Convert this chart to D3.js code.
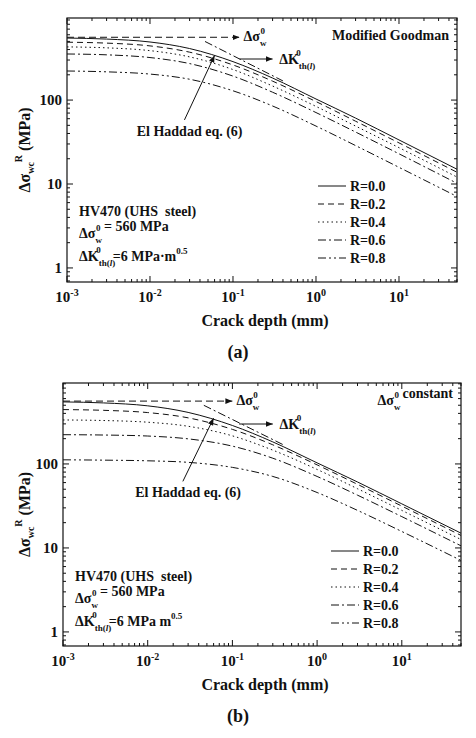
<!DOCTYPE html>
<html><head><meta charset="utf-8">
<script src="https://cdn.jsdelivr.net/npm/d3@7"></script>
<style>body{margin:0;background:#fff}svg text{font-family:"Liberation Serif","DejaVu Serif",serif;font-weight:bold;fill:#111}</style>
</head><body><svg id="chart" width="476" height="738"></svg>
<script>
// crack depth sample points (mm)
const depth = [0.001, 0.003, 0.01, 0.03, 0.1, 0.3, 1, 3, 10, 50];
const rLabels = ["R=0.0", "R=0.2", "R=0.4", "R=0.6", "R=0.8"];
// panel (a) Modified Goodman, MPa
const goodman = [
  [548, 533, 492, 411, 287, 183, 103, 61, 33.5, 15.0],
  [489, 477, 442, 372, 262, 168, 96, 56, 30.9, 13.8],
  [430, 419, 388, 327, 231, 147, 84, 49, 27.1, 12.1],
  [354, 346, 321, 272, 193, 124, 71, 41.6, 22.9, 10.2],
  [222, 217, 204, 177, 129, 85, 49, 28.7, 15.8, 7.1]
];
// panel (b) constant delta sigma, MPa
const constant = [
  [548, 533, 492, 411, 287, 183, 103, 61, 33.5, 15.0],
  [444, 435, 409, 354, 258, 169, 97.5, 57.2, 31.5, 14.1],
  [334, 329, 314, 281, 216, 146, 86, 50.7, 28.0, 12.6],
  [223, 221, 215, 199, 163, 117, 71, 42.5, 23.6, 10.6],
  [112, 111, 109, 104.5, 91, 71, 45.7, 28, 15.7, 7.1]
];
const sigmaW = 560;
const kthLine = [[0.046, 499], [0.4, 169]];
const dashes = [null, "6,4", "1.5,3", "8,3,2,3", "8,3,2,3,2,3"];

const svg = d3.select("#chart");
svg.append("defs").append("marker").attr("id", "ah").attr("viewBox", "0 0 10 10")
  .attr("refX", 10).attr("refY", 5).attr("markerWidth", 7).attr("markerHeight", 7)
  .attr("orient", "auto-start-reverse").attr("markerUnits", "userSpaceOnUse")
  .append("path").attr("d", "M0,1L10,5L0,9Z").attr("fill", "#111");

// Δσ_w^0 / ΔK_th(l)^0 symbol pieces
function sigW(t) {
  t.append("tspan").text("Δσ");
  t.append("tspan").attr("font-size", 9).attr("dy", 5).text("w");
  t.append("tspan").attr("font-size", 9).attr("dx", -6).attr("dy", -12).text("0");
  t.append("tspan").attr("font-size", 14).attr("dy", 7).text("");
}
function kth(t) {
  t.append("tspan").text("ΔK");
  t.append("tspan").attr("font-size", 9).attr("dy", 5).text("th(");
  t.append("tspan").attr("font-size", 9).attr("font-style", "italic").text("l");
  t.append("tspan").attr("font-size", 9).text(")");
  t.append("tspan").attr("font-size", 9).attr("dx", -19).attr("dy", -13).text("0");
}

function drawPanel(o) {
  const x = d3.scaleLog().domain([1e-3, 50]).range([o.left, o.right]);
  const y = d3.scaleLog().domain([0.68, o.ytop]).range([o.bottom, o.top]);
  const g = svg.append("g");
  g.append("rect").attr("x", o.left).attr("y", o.top).attr("width", o.right - o.left)
    .attr("height", o.bottom - o.top).attr("fill", "none").attr("stroke", "#111").attr("stroke-width", 1.2);

  // ticks (inside, mirrored)
  const xt = [], yt = [];
  for (let e = -3; e <= 1; e++) for (let m = 1; m <= 9; m++) { const v = m * 10 ** e; if (v <= 50) xt.push([v, m === 1]); }
  for (let e = -1; e <= 2; e++) for (let m = 1; m <= 9; m++) { const v = m * 10 ** e; if (v >= 0.68 && v <= o.ytop) yt.push([v, m === 1]); }
  xt.forEach(([v, maj]) => {
    const l = maj ? 6 : 3;
    g.append("line").attr("x1", x(v)).attr("x2", x(v)).attr("y1", o.bottom).attr("y2", o.bottom - l).attr("stroke", "#111");
    g.append("line").attr("x1", x(v)).attr("x2", x(v)).attr("y1", o.top).attr("y2", o.top + l).attr("stroke", "#111");
  });
  yt.forEach(([v, maj]) => {
    const l = maj ? 6 : 3;
    g.append("line").attr("y1", y(v)).attr("y2", y(v)).attr("x1", o.left).attr("x2", o.left + l).attr("stroke", "#111");
    g.append("line").attr("y1", y(v)).attr("y2", y(v)).attr("x1", o.right).attr("x2", o.right - l).attr("stroke", "#111");
  });
  [-3, -2, -1, 0, 1].forEach(e => {
    const t = g.append("text").attr("x", x(10 ** e)).attr("y", o.bottom + 20).attr("text-anchor", "middle")
      .attr("font-size", 15).attr("font-weight", "normal");
    t.append("tspan").text("10");
    t.append("tspan").attr("dy", -6).attr("font-size", 10).text(e);
  });
  [1, 10, 100].forEach(v => g.append("text").attr("x", o.left - 5).attr("y", y(v) + 5)
    .attr("text-anchor", "end").attr("font-size", 15).text(v));
  g.append("text").attr("x", (o.left + o.right) / 2 + 3).attr("y", o.bottom + 44).attr("text-anchor", "middle")
    .attr("font-size", 16).text("Crack depth (mm)");
  const yl = g.append("text").attr("transform", `translate(30,${(o.top + o.bottom) / 2}) rotate(-90)`)
    .attr("text-anchor", "middle").attr("font-size", 16);
  yl.append("tspan").text("Δσ");
  yl.append("tspan").attr("font-size", 10).attr("dy", 4).text("wc");
  yl.append("tspan").attr("font-size", 10).attr("dy", -12).text("R");
  yl.append("tspan").attr("dy", 8).text(" (MPa)");
  g.append("text").attr("x", 238).attr("y", o.bottom + 76).attr("text-anchor", "middle")
    .attr("font-size", 18).attr("font-weight", "normal").text(o.tag);

  const line = d3.line().x((d, i) => x(depth[i])).y(d => y(d)).curve(d3.curveMonotoneX);
  o.data.forEach((s, k) => g.append("path").attr("d", line(s)).attr("fill", "none")
    .attr("stroke", "#111").attr("stroke-width", 1).attr("stroke-dasharray", dashes[k]));

  // sigma_w dashed reference with arrow
  g.append("line").attr("x1", x(1e-3)).attr("x2", x(o.arrowEnd)).attr("y1", y(sigmaW)).attr("y2", y(sigmaW))
    .attr("stroke", "#111").attr("stroke-dasharray", "7,4").attr("marker-end", "url(#ah)");
  sigW(g.append("text").attr("x", x(o.arrowEnd) + 4).attr("y", y(sigmaW) + 4).attr("font-size", 14));

  // threshold slope line
  g.append("line").attr("x1", x(kthLine[0][0])).attr("y1", y(kthLine[0][1])).attr("x2", x(kthLine[1][0])).attr("y2", y(kthLine[1][1]))
    .attr("stroke", "#111").attr("stroke-dasharray", "8,3,2,3");
  const ky = o.top + 41;
  g.append("line").attr("x1", x(0.12)).attr("x2", x(0.3)).attr("y1", ky).attr("y2", ky)
    .attr("stroke", "#111").attr("marker-end", "url(#ah)");
  kth(g.append("text").attr("x", x(0.36)).attr("y", ky + 5).attr("font-size", 14));

  // El Haddad arrow
  g.append("line").attr("x1", x(0.026)).attr("y1", y(o.ehFrom)).attr("x2", x(0.06)).attr("y2", y(o.ehTo))
    .attr("stroke", "#111").attr("marker-end", "url(#ah)");
  g.append("text").attr("x", x(0.03)).attr("y", y(o.ehFrom) + 16).attr("text-anchor", "middle")
    .attr("font-size", 14).text("El Haddad eq. (6)");

  // title
  const tt = g.append("text").attr("x", o.right - 8).attr("y", o.top + 22).attr("text-anchor", "end").attr("font-size", 14);
  o.title(tt);

  // legend
  rLabels.forEach((r, k) => {
    const ly = o.top + 168 + k * 18;
    g.append("line").attr("x1", o.legX).attr("x2", o.legX + 28).attr("y1", ly).attr("y2", ly)
      .attr("stroke", "#111").attr("stroke-dasharray", dashes[k]);
    g.append("text").attr("x", o.legX + 32).attr("y", ly + 5).attr("font-size", 14).text(r);
  });

  // material box
  const bx = o.left + 12, by = o.top + 198;
  g.append("text").attr("x", bx).attr("y", by).attr("font-size", 14).text("HV470 (UHS\u00a0 steel)");
  const m2 = g.append("text").attr("x", bx).attr("y", by + 22).attr("font-size", 14);
  sigW(m2);
  m2.append("tspan").text(" = 560 MPa");
  const m3 = g.append("text").attr("x", bx).attr("y", by + 45).attr("font-size", 14);
  kth(m3);
  m3.append("tspan").attr("dx", 12).attr("dy", 8).text(o.kText);
  m3.append("tspan").attr("font-size", 9).attr("dy", -7).text("0.5");
}

drawPanel({
  left: 67, right: 457, top: 18, bottom: 282, ytop: 950, tag: "(a)", data: goodman,
  arrowEnd: 0.12, ehFrom: 58, ehTo: 340, legX: 318, kText: "=6 MPa·m",
  title: t => t.text("Modified Goodman")
});
drawPanel({
  left: 63, right: 461, top: 383, bottom: 646, ytop: 920, tag: "(b)", data: constant,
  arrowEnd: 0.1, ehFrom: 62, ehTo: 350, legX: 331, kText: "=6 MPa m",
  title: t => { sigW(t); t.append("tspan").text(" constant"); }
});
</script></body></html>
